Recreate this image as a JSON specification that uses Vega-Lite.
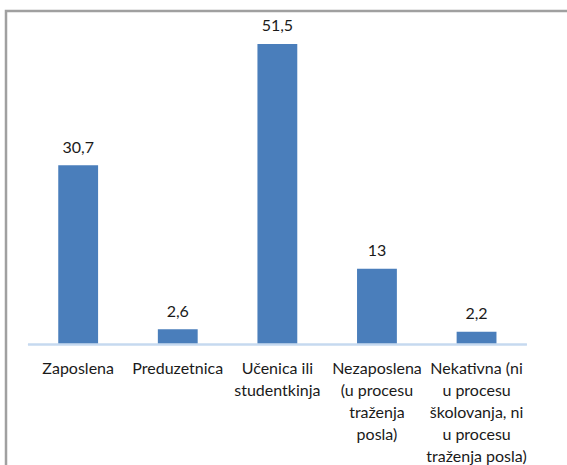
{
  "$schema": "https://vega.github.io/schema/vega-lite/v6.json",
  "width": 591,
  "height": 484,
  "autosize": {"type": "none"},
  "padding": {"left": 6, "top": 11, "right": -30, "bottom": -30},
  "background": "white",
  "config": {
    "view": {"stroke": "#a0a0a0", "strokeWidth": 2.5},
    "font": "Lato",
    "locale": {"number": {"decimal": ",", "thousands": ".", "grouping": [3], "currency": ["", " €"]}}
  },
  "data": {
    "values": [
      {"cat": "Zaposlena", "v": 30.7},
      {"cat": "Preduzetnica", "v": 2.6},
      {"cat": "Učenica ili\nstudentkinja", "v": 51.5},
      {"cat": "Nezaposlena\n(u procesu\ntraženja\nposla)", "v": 13},
      {"cat": "Nekativna (ni\nu procesu\nškolovanja, ni\nu procesu\ntraženja posla)", "v": 2.2}
    ]
  },
  "layer": [
    {
      "mark": {"type": "bar", "color": "#4A7EBB"},
      "encoding": {
        "x": {"field": "cat", "type": "nominal", "sort": null, "axis": null,
              "scale": {"type": "band", "paddingInner": 0.6, "paddingOuter": 0.767, "align": 0.342}},
        "y": {"field": "v", "type": "quantitative", "axis": null,
              "scale": {"domain": [-25.79, 57.155], "nice": false, "zero": false}}
      }
    },
    {
      "mark": {"type": "rule", "color": "#C6D9F0", "strokeWidth": 1.5},
      "encoding": {
        "x": {"datum": "Zaposlena", "type": "nominal", "bandPosition": -0.76},
        "x2": {"datum": "Nekativna (ni\nu procesu\nškolovanja, ni\nu procesu\ntraženja posla)", "bandPosition": 1.76},
        "y": {"datum": 0, "type": "quantitative"}
      }
    },
    {
      "mark": {"type": "text", "fontSize": 16, "color": "#1a1a1a", "baseline": "alphabetic", "dy": -12.7},
      "encoding": {
        "x": {"field": "cat", "type": "nominal", "sort": null},
        "y": {"field": "v", "type": "quantitative"},
        "text": {"field": "v", "type": "quantitative", "format": ".1~f"}
      }
    },
    {
      "mark": {"type": "text", "fontSize": 16, "color": "#1a1a1a", "baseline": "alphabetic", "dy": 29.5, "lineBreak": "\n", "lineHeight": 22},
      "encoding": {
        "x": {"field": "cat", "type": "nominal", "sort": null},
        "y": {"datum": 0, "type": "quantitative"},
        "text": {"field": "cat", "type": "nominal"}
      }
    }
  ]
}
